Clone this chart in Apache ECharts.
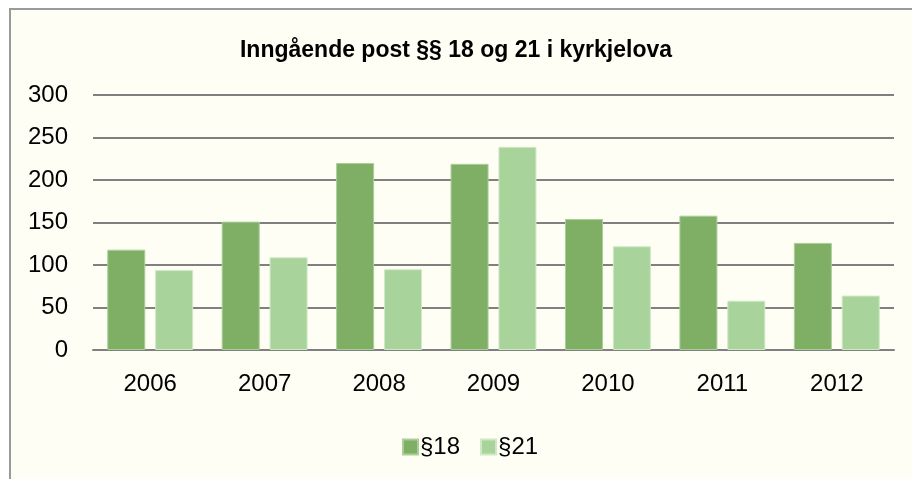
<!DOCTYPE html>
<html><head><meta charset="utf-8">
<script src="https://cdn.jsdelivr.net/npm/echarts@6/dist/echarts.min.js"></script>
<style>html,body{margin:0;padding:0;background:#fff;}#c{width:912px;height:479px;}</style>
</head><body><div id="c"></div>
<script>
const title = "Inngående post §§ 18 og 21 i kyrkjelova";
const categories = ["2006","2007","2008","2009","2010","2011","2012"];
const s18 = [118, 151, 220, 219, 154, 158, 126];
const s21 = [94, 109, 95, 239, 122, 58, 64];
const yTicks = {min: 0, max: 300, interval: 50};
const font = "Liberation Sans";
const chart = echarts.init(document.getElementById('c'));
chart.setOption({
  backgroundColor: '#ffffff',
  graphic: [{type:'rect', shape:{x:10,y:9,width:912,height:480}, style:{fill:'#FEFEF4', stroke:'#9A9A9A', lineWidth:2}, z:-10}],
  title: {text: title, left: 'center', top: 34, textStyle:{fontFamily: font, fontWeight:'bold', fontSize:23, color:'#000'}},
  grid: {left: 93, right: 18, top: 95, bottom: 129},
  legend: {data:['§18','§21'], left: 397, top: 430, itemWidth: 15, itemHeight: 15, itemGap: 20,
    icon:'rect', textStyle:{fontFamily: font, fontSize:24, color:'#000', padding:[0,0,0,-3]}},
  xAxis: {type:'category', data: categories, axisTick:{show:false},
    axisLine:{lineStyle:{color:'#808080', width:2}},
    axisLabel:{fontFamily: font, fontSize:24, color:'#000', margin:22}},
  yAxis: {type:'value', min: yTicks.min, max: yTicks.max, interval: yTicks.interval,
    axisLine:{show:false}, axisTick:{show:false},
    splitLine:{lineStyle:{color:'#808080', width:2}},
    axisLabel:{fontFamily: font, fontSize:24, color:'#000', margin:25}},
  series: [
    {name:'§18', type:'bar', data: s18, barWidth: 38, barGap:'26%',
      itemStyle:{color:'#7EAF65', borderColor:'#A9CE98', borderWidth:1}},
    {name:'§21', type:'bar', data: s21, barWidth: 38,
      itemStyle:{color:'#A8D39B', borderColor:'#CFE8C6', borderWidth:1}}
  ]
});
</script></body></html>
